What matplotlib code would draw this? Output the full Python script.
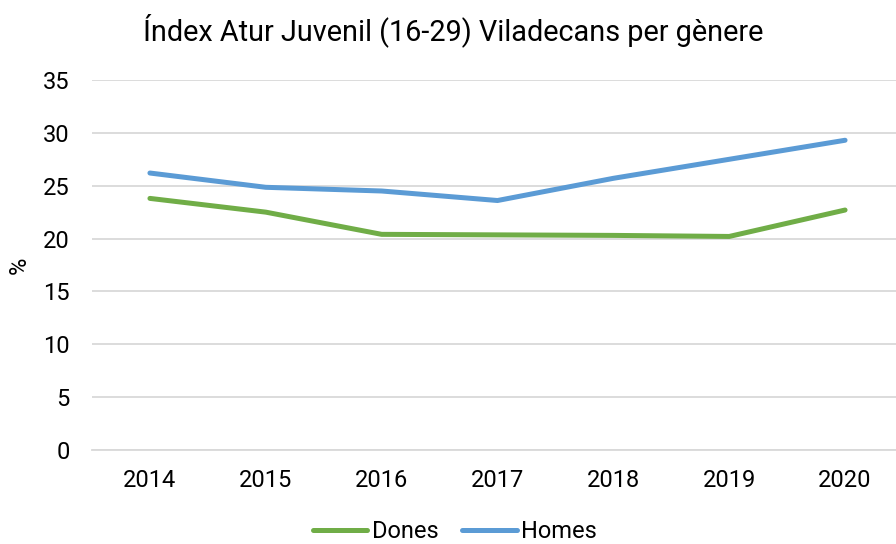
import matplotlib
matplotlib.use("Agg")
import matplotlib.pyplot as plt

years = ["2014", "2015", "2016", "2017", "2018", "2019", "2020"]
dones = [23.8, 22.5, 20.4, 20.35, 20.3, 20.2, 22.7]
homes = [26.2, 24.85, 24.5, 23.6, 25.7, 27.5, 29.3]
yticks = [0, 5, 10, 15, 20, 25, 30, 35]

plt.rcParams['font.family'] = ['Roboto', 'DejaVu Sans']

fig = plt.figure(figsize=(8.96, 5.44), dpi=100)
ax = fig.add_axes([92/896, 94/544, 811/896, 370/544])
x = list(range(len(years)))
ax.plot(x, dones, color="#70AD47", lw=3.6, solid_capstyle="round", label="Dones", zorder=3)
ax.plot(x, homes, color="#5B9BD5", lw=3.6, solid_capstyle="round", label="Homes", zorder=3)
ax.set_xlim(-0.5, 6.5)
ax.set_ylim(0, 35)
ax.set_yticks(yticks)
ax.set_xticks(x)
ax.set_xticklabels(years)
ax.grid(axis="y", color="#D9D9D9", lw=1.3)
ax.set_axisbelow(True)
for s in ["top", "right", "left"]:
    ax.spines[s].set_visible(False)
ax.spines["bottom"].set_color("#D9D9D9")
ax.spines["bottom"].set_linewidth(1.3)
ax.tick_params(axis="both", length=0, labelsize=17, colors="#000000")
ax.tick_params(axis="y", pad=16)
ax.tick_params(axis="x", pad=14)
fig.text(19/896, 1 - 265/544, "%", rotation=90, ha="center", va="center", fontsize=17)
fig.text(453/896, 1 - 30/544, "Índex Atur Juvenil (16-29) Viladecans per gènere", ha="center", va="center", fontsize=20.8)
fig.legend(loc="center", bbox_to_anchor=(455/896, 1 - 532/544), ncol=2, frameon=False, fontsize=17,
           handlelength=2.3, handletextpad=0.2, columnspacing=1.0)
fig.savefig("out.png", dpi=100)
